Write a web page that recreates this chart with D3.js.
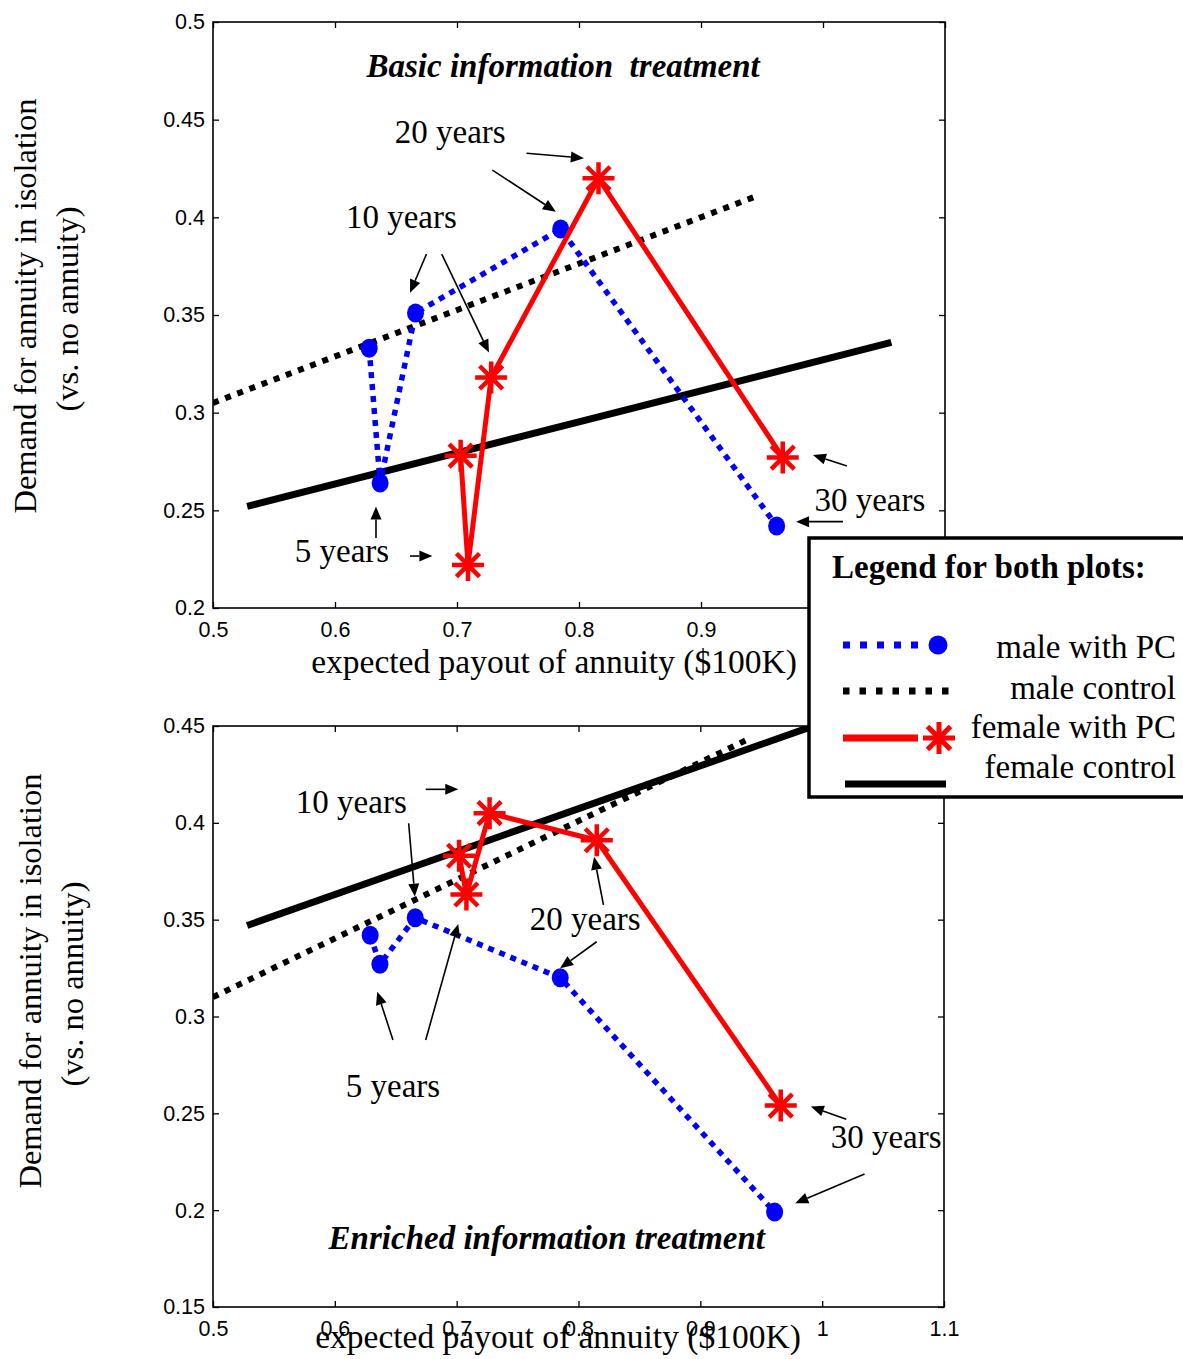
<!DOCTYPE html>
<html>
<head>
<meta charset="utf-8">
<script src="https://cdn.jsdelivr.net/npm/d3@7"></script>
<style>
  body { margin: 0; background: #fff; }
  svg { display: block; }
</style>
</head>
<body>
<div class="chart"></div>
<script>
// ---- data ----
const xTicks = [0.5, 0.6, 0.7, 0.8, 0.9, 1, 1.1];
const basicYTicks = [0.2, 0.25, 0.3, 0.35, 0.4, 0.45, 0.5];
const enrichedYTicks = [0.15, 0.2, 0.25, 0.3, 0.35, 0.4, 0.45];

// basic information treatment
const basicMalePayout = [0.628, 0.637, 0.666, 0.785, 0.962];
const basicMaleDemand = [0.333, 0.264, 0.351, 0.394, 0.242];
const basicFemalePayout = [0.703, 0.709, 0.728, 0.816, 0.967];
const basicFemaleDemand = [0.278, 0.222, 0.318, 0.420, 0.277];
const basicMaleControl = [[0.5, 0.305], [0.946, 0.411]];
const basicFemaleControl = [[0.528, 0.252], [1.056, 0.336]];

// enriched information treatment
const enrichedMalePayout = [0.629, 0.637, 0.666, 0.785, 0.961];
const enrichedMaleDemand = [0.342, 0.327, 0.351, 0.320, 0.199];
const enrichedFemalePayout = [0.702, 0.708, 0.727, 0.815, 0.966];
const enrichedFemaleDemand = [0.383, 0.363, 0.405, 0.391, 0.254];
const enrichedMaleControl = [[0.5, 0.310], [0.942, 0.444]];
const enrichedFemaleControl = [[0.528, 0.347], [1.056, 0.464]];

// annotations, in data units (payout, demand)
const basicLabels = [
  {text: "20 years", x: 0.649, y: 0.438},
  {text: "10 years", x: 0.609, y: 0.3945},
  {text: "5 years", x: 0.567, y: 0.2235},
  {text: "30 years", x: 0.993, y: 0.2495}
];
const basicArrows = [
  [0.757, 0.4328, 0.804, 0.4303],
  [0.729, 0.4242, 0.781, 0.4029],
  [0.675, 0.3812, 0.6615, 0.3614],
  [0.6875, 0.3812, 0.7262, 0.3308],
  [0.6336, 0.2358, 0.6336, 0.2519],
  [0.6615, 0.2266, 0.6798, 0.2266],
  [1.0197, 0.2727, 0.9918, 0.2783],
  [1.0164, 0.2442, 0.9779, 0.2442]
];
const enrichedLabels = [
  {text: "10 years", x: 0.568, y: 0.4052},
  {text: "20 years", x: 0.760, y: 0.3447},
  {text: "5 years", x: 0.609, y: 0.2583},
  {text: "30 years", x: 1.007, y: 0.232}
];
const enrichedArrows = [
  [0.6746, 0.4173, 0.7013, 0.4173],
  [0.6606, 0.3998, 0.6657, 0.3619],
  [0.8205, 0.3576, 0.8128, 0.3825],
  [0.8149, 0.3386, 0.7849, 0.3249],
  [0.6477, 0.2879, 0.6348, 0.3128],
  [0.6746, 0.2879, 0.7013, 0.3478],
  [1.0198, 0.2470, 0.9907, 0.2535],
  [1.0348, 0.2187, 0.9779, 0.2036]
];

const legendNames = ["male with PC", "male control", "female with PC", "female control"];

const serif = "'Liberation Serif', 'Times New Roman', serif";
const sans = "'Liberation Sans', Arial, sans-serif";
const blue = "#0000ff";
const red = "#ff0000";

const svg = d3.select(".chart")
  .append("svg")
    .attr("width", 1183)
    .attr("height", 1359);

function zip(xs, ys) {
  return xs.map((x, i) => [x, ys[i]]);
}

function asteriskPath(s) {
  const a = s * 0.72;
  return `M0,${-s}L0,${s}M${-s},0L${s},0M${-a},${-a}L${a},${a}M${-a},${a}L${a},${-a}`;
}

function drawArrow(g, x1, y1, x2, y2) {
  const len = Math.hypot(x2 - x1, y2 - y1);
  const ux = (x2 - x1) / len, uy = (y2 - y1) / len;
  const hl = 13, hw = 5.5;
  const bx = x2 - ux * hl, by = y2 - uy * hl;
  g.append("line")
    .attr("x1", x1).attr("y1", y1)
    .attr("x2", bx).attr("y2", by)
    .attr("stroke", "#000")
    .attr("stroke-width", 1.6);
  g.append("path")
    .attr("d", `M${x2},${y2}L${bx - uy * hw},${by + ux * hw}L${bx + uy * hw},${by - ux * hw}Z`)
    .attr("fill", "#000");
}

function drawPanel(opts) {
  const x = d3.scaleLinear().domain([0.5, 1.1]).range(opts.xRange);
  const y = d3.scaleLinear().domain(opts.yDomain).range(opts.yRange);
  const [left, right] = opts.xRange;
  const [bottom, top] = opts.yRange;
  const fmt = d => String(+d.toFixed(2));

  const g = svg.append("g");

  g.append("clipPath").attr("id", opts.id)
    .append("rect")
      .attr("x", left).attr("y", top)
      .attr("width", right - left).attr("height", bottom - top);

  // axes, MATLAB style: ticks inside on all four sides
  const axB = g.append("g")
    .attr("transform", `translate(0,${bottom})`)
    .call(d3.axisBottom(x).tickValues(xTicks).tickFormat(fmt).tickSizeInner(-6).tickSizeOuter(0).tickPadding(10));
  const axT = g.append("g")
    .attr("transform", `translate(0,${top})`)
    .call(d3.axisTop(x).tickValues(xTicks).tickFormat("").tickSizeInner(-6).tickSizeOuter(0));
  const axL = g.append("g")
    .attr("transform", `translate(${left},0)`)
    .call(d3.axisLeft(y).tickValues(opts.yTicks).tickFormat(fmt).tickSizeInner(-6).tickSizeOuter(0).tickPadding(8));
  const axR = g.append("g")
    .attr("transform", `translate(${right},0)`)
    .call(d3.axisRight(y).tickValues(opts.yTicks).tickFormat("").tickSizeInner(-6).tickSizeOuter(0));

  [axB, axT, axL, axR].forEach(a => {
    a.select(".domain").remove();
    a.selectAll(".tick line").attr("stroke", "#000").attr("stroke-width", 1.3);
    a.selectAll(".tick text")
      .style("font-family", sans)
      .style("font-size", "21.5px")
      .attr("fill", "#000");
  });
  axB.selectAll(".tick text").attr("dy", "0.9em");

  g.append("rect")
    .attr("x", left).attr("y", top)
    .attr("width", right - left).attr("height", bottom - top)
    .attr("fill", "none")
    .attr("stroke", "#000")
    .attr("stroke-width", 1.6);

  const line = d3.line().x(d => x(d[0])).y(d => y(d[1]));
  const plot = g.append("g").attr("clip-path", `url(#${opts.id})`);

  plot.append("path")
    .attr("d", line(opts.maleControl))
    .attr("fill", "none").attr("stroke", "#000")
    .attr("stroke-width", 6).attr("stroke-dasharray", "6,7");
  plot.append("path")
    .attr("d", line(opts.femaleControl))
    .attr("fill", "none").attr("stroke", "#000")
    .attr("stroke-width", 7);

  const male = zip(opts.malePayout, opts.maleDemand);
  const female = zip(opts.femalePayout, opts.femaleDemand);

  plot.append("path")
    .attr("d", line(male))
    .attr("fill", "none").attr("stroke", blue)
    .attr("stroke-width", 5.5).attr("stroke-dasharray", "6,6");
  plot.selectAll(".male-dot")
    .data(male)
    .join("ellipse")
      .attr("class", "male-dot")
      .attr("cx", d => x(d[0])).attr("cy", d => y(d[1]))
      .attr("rx", 8.5).attr("ry", 9.5)
      .attr("fill", blue);

  plot.append("path")
    .attr("d", line(female))
    .attr("fill", "none").attr("stroke", red)
    .attr("stroke-width", 5).attr("stroke-linejoin", "round");
  plot.selectAll(".female-star")
    .data(female)
    .join("path")
      .attr("class", "female-star")
      .attr("transform", d => `translate(${x(d[0])},${y(d[1])})`)
      .attr("d", asteriskPath(16))
      .attr("stroke", red).attr("stroke-width", 4.5)
      .attr("fill", "none");

  // annotations
  const notes = g.append("g");
  opts.arrows.forEach(a => drawArrow(notes, x(a[0]), y(a[1]), x(a[2]), y(a[3])));
  notes.selectAll(".note")
    .data(opts.labels)
    .join("text")
      .attr("class", "note")
      .attr("x", d => x(d.x)).attr("y", d => y(d.y))
      .style("font-family", serif)
      .style("font-size", "33px")
      .text(d => d.text);

  g.append("text")
    .attr("x", x(opts.title.x)).attr("y", y(opts.title.y))
    .attr("text-anchor", "middle")
    .style("font-family", serif)
    .style("font-size", "33px")
    .style("font-weight", "bold")
    .style("font-style", "italic")
    .style("white-space", "pre")
    .text(opts.title.text);

  // axis titles
  g.append("text")
    .attr("x", opts.xLabelPos[0]).attr("y", opts.xLabelPos[1])
    .attr("text-anchor", "middle")
    .style("font-family", serif)
    .style("font-size", "33.5px")
    .text("expected payout of annuity ($100K)");

  const ylab = g.append("text")
    .attr("transform", `translate(${opts.yLabelPos[0]},${opts.yLabelPos[1]}) rotate(-90)`)
    .attr("text-anchor", "middle")
    .style("font-family", serif)
    .style("font-size", "32.5px");
  ylab.append("tspan").attr("x", 0).attr("y", 0).text("Demand for annuity in isolation");
  ylab.append("tspan").attr("x", -3).attr("y", 42).text("(vs. no annuity)");
}

drawPanel({
  id: "clip-basic",
  xRange: [213, 945],
  yRange: [608, 22],
  yDomain: [0.2, 0.5],
  yTicks: basicYTicks,
  malePayout: basicMalePayout, maleDemand: basicMaleDemand,
  femalePayout: basicFemalePayout, femaleDemand: basicFemaleDemand,
  maleControl: basicMaleControl, femaleControl: basicFemaleControl,
  labels: basicLabels, arrows: basicArrows,
  title: {text: "Basic information  treatment", x: 0.787, y: 0.4718},
  xLabelPos: [554, 673],
  yLabelPos: [36, 306]
});

drawPanel({
  id: "clip-enriched",
  xRange: [213, 944],
  yRange: [1307, 726],
  yDomain: [0.15, 0.45],
  yTicks: enrichedYTicks,
  malePayout: enrichedMalePayout, maleDemand: enrichedMaleDemand,
  femalePayout: enrichedFemalePayout, femaleDemand: enrichedFemaleDemand,
  maleControl: enrichedMaleControl, femaleControl: enrichedFemaleControl,
  labels: enrichedLabels, arrows: enrichedArrows,
  title: {text: "Enriched information treatment", x: 0.774, y: 0.1798},
  xLabelPos: [558, 1348],
  yLabelPos: [41, 981]
});

// legend shared by both plots
const legend = svg.append("g");
legend.append("rect")
  .attr("x", 809).attr("y", 538)
  .attr("width", 420).attr("height", 259)
  .attr("fill", "#fff")
  .attr("stroke", "#000")
  .attr("stroke-width", 3.5);
legend.append("text")
  .attr("x", 832).attr("y", 578)
  .style("font-family", serif)
  .style("font-size", "33px")
  .style("font-weight", "bold")
  .text("Legend for both plots:");

const rowY = [645, 691, 738, 784];
const textY = [658, 699, 738, 778];

legend.append("line")
  .attr("x1", 843).attr("x2", 920).attr("y1", rowY[0]).attr("y2", rowY[0])
  .attr("stroke", blue).attr("stroke-width", 7).attr("stroke-dasharray", "7,10");
legend.append("circle")
  .attr("cx", 938).attr("cy", rowY[0]).attr("r", 9.5).attr("fill", blue);
legend.append("line")
  .attr("x1", 843).attr("x2", 950).attr("y1", rowY[1]).attr("y2", rowY[1])
  .attr("stroke", "#000").attr("stroke-width", 7).attr("stroke-dasharray", "6.5,10");
legend.append("line")
  .attr("x1", 843).attr("x2", 918).attr("y1", rowY[2]).attr("y2", rowY[2])
  .attr("stroke", red).attr("stroke-width", 7);
legend.append("path")
  .attr("transform", `translate(939,${rowY[2]})`)
  .attr("d", asteriskPath(16))
  .attr("stroke", red).attr("stroke-width", 5).attr("fill", "none");
legend.append("line")
  .attr("x1", 845).attr("x2", 946).attr("y1", rowY[3]).attr("y2", rowY[3])
  .attr("stroke", "#000").attr("stroke-width", 7);

legend.selectAll(".legend-name")
  .data(legendNames)
  .join("text")
    .attr("class", "legend-name")
    .attr("x", 1176)
    .attr("y", (d, i) => textY[i])
    .attr("text-anchor", "end")
    .style("font-family", serif)
    .style("font-size", "33px")
    .text(d => d);
</script>
</body>
</html>
